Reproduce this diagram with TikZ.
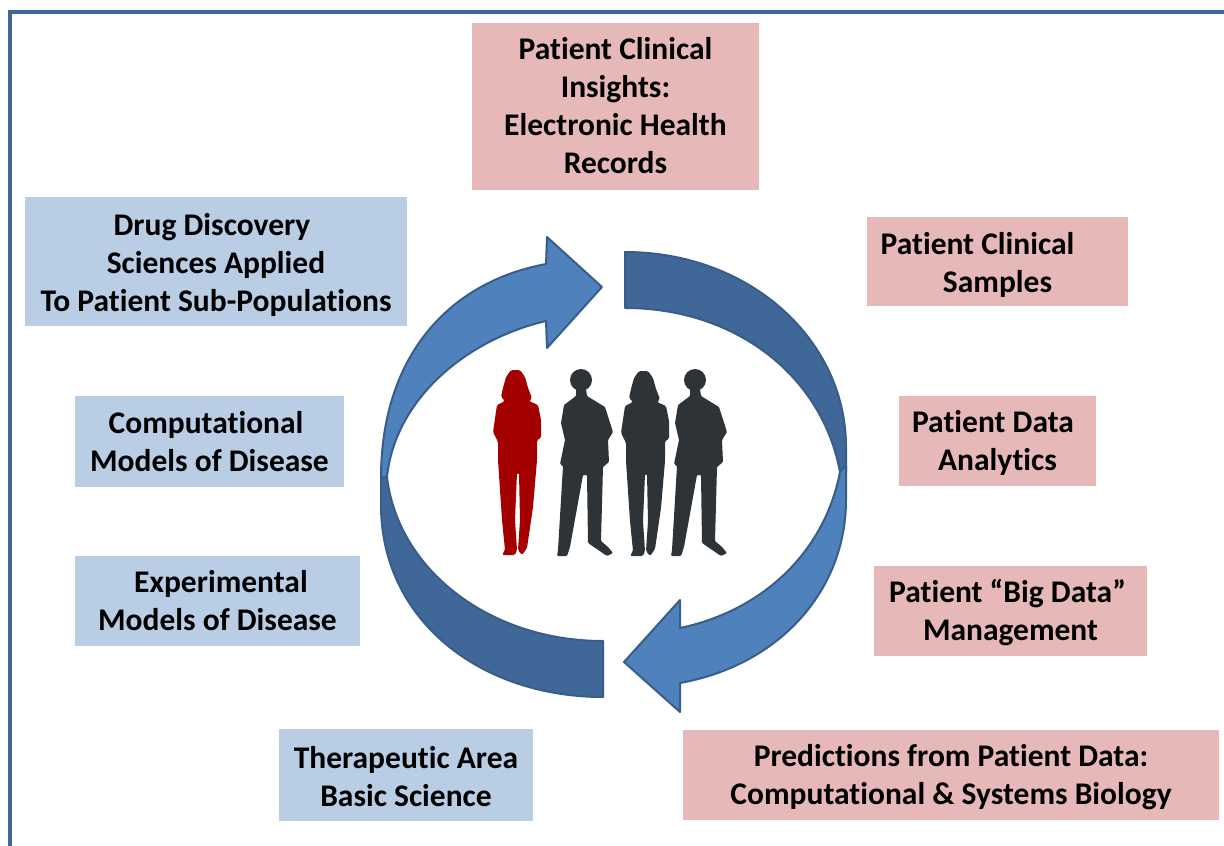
\documentclass[tikz,border=0pt]{standalone}
\usepackage{fontspec}
\setmainfont[Ligatures=NoCommon]{Carlito}
\usepackage{tikz}
\definecolor{framecol}{HTML}{3F6797}
\definecolor{bluebox}{HTML}{B9CDE5}
\definecolor{pinkbox}{HTML}{E6B9B8}
\definecolor{arrowlight}{HTML}{4F81BD}
\definecolor{arrowdark}{HTML}{3F6797}
\definecolor{arrowline}{HTML}{385D8A}
\definecolor{persondark}{HTML}{2D3336}
\definecolor{personred}{HTML}{A50000}
\newcommand{\toplift}[1]{\rule{0pt}{#1}}
\tikzset{
  label/.style={align=center, inner sep=0pt, text=black,
    font=\fontsize{31.5}{38}\selectfont\bfseries},
  bluelabel/.style={label, fill=bluebox},
  pinklabel/.style={label, fill=pinkbox},
  lightarrow/.style={fill=arrowlight, draw=arrowline, line width=2pt, line join=round},
  darkarrow/.style={fill=arrowdark, draw=arrowline, line width=2pt, line join=round},
  pics/womanshape/.style={code={
    \fill[#1, rounded corners=1.5pt] (31,10) -- (40,10) -- (45,17) -- (48,28) -- (52,38) -- (49,41) -- (58,45)
      -- (61,60) -- (61,78) -- (57,80) -- (57,100) -- (53,147) -- (47,188) -- (42,195) -- (38,190)
      -- (40,160) -- (39,113) -- (37,113) -- (35,160) -- (37,190) -- (35,195) -- (22,195) -- (25,190)
      -- (22,160) -- (18,100) -- (18,82) -- (13,72) -- (17,45) -- (25,41) -- (21,37) -- (23,28) -- (26,17) -- cycle;
  }},
  pics/manshape/.style={code={
    \fill[persondark] (101,20) circle (11);
    \fill[persondark, rounded corners=1pt] (96,29) -- (96,36) -- (84,45) -- (81,63) -- (85,80) -- (80,104)
      -- (83,106) -- (78,190) -- (77,196) -- (87,196) -- (90,187) -- (103,115) -- (107,115) -- (108,183)
      -- (127,196) -- (133,193) -- (128,187) -- (121,181) -- (123,107) -- (129,102) -- (128,80)
      -- (133,72) -- (125,47) -- (107,36) -- (106,29) -- cycle;
  }},
}

\begin{document}
\begin{tikzpicture}[x=1pt, y=-1pt]
    \useasboundingbox (0,0) rectangle (1224,846);

    % frame
    \draw[framecol, line width=3.5pt] (10,846) -- (10,12) -- (1224,12);

    % ring, dark parts first
    \draw[darkarrow] (625,252) .. controls (750,252) and (846,340) .. (846,447)
      -- (846,472) -- (840,472) .. controls (822,375) and (735,308) .. (625,308) -- cycle;
    \draw[darkarrow] (603,697) .. controls (480,697) and (381,620) .. (381,505)
      -- (381,470) -- (387,477) .. controls (398,570) and (490,641) .. (603,641) -- cycle;
    \draw[lightarrow] (602,287) -- (547,237) -- (546,264)
      .. controls (445,283) and (381,360) .. (381,478)
      -- (387,477) .. controls (395,400) and (465,340) .. (546,321)
      -- (547,348) -- cycle;
    \draw[lightarrow] (624,662) -- (680,600) -- (680,628)
      .. controls (765,610) and (825,550) .. (840,472)
      -- (846,465) -- (846,500) .. controls (846,590) and (780,665) .. (680,683)
      -- (680,712) -- cycle;

    % people
    \begin{scope}[shift={(480,360)}]
      \pic {womanshape=personred};
      \pic {manshape};
      \pic[shift={(128,1)}] {womanshape=persondark};
      \pic[shift={(114,0)}] {manshape};
    \end{scope}

    % patient side
    \node[pinklabel, minimum width=287pt, minimum height=167pt] (insights) at (615.5,106.5)
      {Patient Clinical\\Insights:\\Electronic Health\\Records\rule[-2pt]{0pt}{0pt}};
    \node[pinklabel, minimum width=261pt, minimum height=89pt] (samples) at (997.5,261.5)
      {\toplift{29pt}Patient Clinical\hspace*{40pt}\\Samples};
    \node[pinklabel, minimum width=197pt, minimum height=90pt] (analytics) at (997.5,441)
      {\toplift{26pt}Patient Data\hspace*{9pt}\\Analytics};
    \node[pinklabel, minimum width=273pt, minimum height=90pt] (bigdata) at (1010.5,611)
      {\toplift{27pt}Patient “Big Data”\hspace*{6pt}\\Management};
    \node[pinklabel, minimum width=536pt, minimum height=90pt] (predictions) at (951,775)
      {\toplift{27pt}Predictions from Patient Data:\\Computational \& Systems Biology};

    % science side
    \node[bluelabel, minimum width=382pt, minimum height=129pt] (discovery) at (216,261.5)
      {\toplift{28pt}Drug Discovery\hspace*{8pt}\\Sciences Applied\\To Patient Sub-Populations};
    \node[bluelabel, minimum width=269pt, minimum height=91pt] (computational) at (209.5,441.5)
      {Computational\hspace*{7pt}\\Models of Disease};
    \node[bluelabel, minimum width=285pt, minimum height=90pt] (experimental) at (217.5,601)
      {\hspace*{7pt}Experimental\\Models of Disease};
    \node[bluelabel, minimum width=254pt, minimum height=92pt] (therapeutic) at (406,775)
      {\toplift{25pt}Therapeutic Area\\Basic Science};
\end{tikzpicture}
\end{document}
